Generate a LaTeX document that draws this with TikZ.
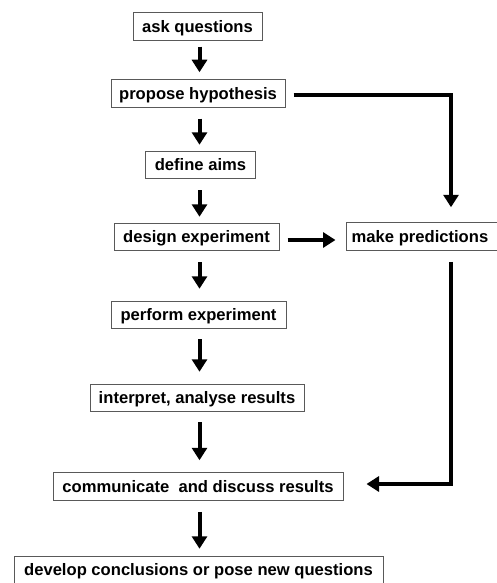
\documentclass[tikz,border=0pt]{standalone}
\usepackage{fontspec}
\setmainfont{Liberation Sans}
\usetikzlibrary{arrows.meta}
\begin{document}
\begin{tikzpicture}[x=1pt,y=-1pt,
  box/.style={draw=black!65, line width=1pt, minimum height=27.5pt, inner sep=0pt, font=\bfseries\fontsize{16.6}{18}\selectfont, anchor=center, text height=13.5pt, text depth=2pt},
  arr/.style={line width=4pt, -{Triangle[width=15pt,length=12.5pt]}}]
\useasboundingbox (0,0) rectangle (497,583);
\clip (0,0) rectangle (497,583);
\node[box, minimum width=129pt] (ask) at (197.5,26.5) {ask questions};
\node[box, minimum width=174pt] (prop) at (198,93.5) {propose hypothesis};
\node[box, minimum width=110pt] (aims) at (200.5,165) {define aims};
\node[box, minimum width=165pt] (design) at (196.5,237) {design experiment};
\node[box, minimum width=154pt] (make) at (423,236.5) {\hspace*{-6pt}make predictions};
\node[box, minimum width=175pt] (perf) at (198.5,315) {perform experiment};
\node[box, minimum width=214pt] (interp) at (197,398) {interpret, analyse results};
\node[box, minimum width=290pt] (comm) at (198,486.5) {communicate\ \ and discuss results};
\node[box, minimum width=369pt] (dev) at (198.5,570) {develop conclusions or pose new questions};
\coordinate (axis) at (199.5,0);
\coordinate (rx) at (451,0);
\draw[arr, shorten <=6pt, shorten >=7pt] (ask.south -| axis) -- (prop.north -| axis);
\draw[arr, shorten <=11pt, shorten >=6pt] (prop.south -| axis) -- (aims.north -| axis);
\draw[arr, shorten <=11pt, shorten >=6pt] (aims.south -| axis) -- (design.north -| axis);
\draw[arr, shorten <=11pt, shorten >=12pt] (design.south -| axis) -- (perf.north -| axis);
\draw[arr, shorten <=10pt, shorten >=12pt] (perf.south -| axis) -- (interp.north -| axis);
\draw[arr, shorten <=10pt, shorten >=12pt] (interp.south -| axis) -- (comm.north -| axis);
\draw[arr, shorten <=11pt, shorten >=7pt] (comm.south -| axis) -- (dev.north -| axis);
\draw[arr, line width=3.5pt, shorten <=8pt, shorten >=15pt] ([yshift=-1.5pt]prop.east) -| (make.north -| rx);
\draw[arr, shorten <=8pt, shorten >=10pt] ([yshift=-3pt]design.east) -- ([yshift=-3pt]design.east -| make.west);
\draw[arr, shorten <=11pt, shorten >=23pt] (make.south -| rx) |- ([yshift=2.5pt]comm.east);
\end{tikzpicture}
\end{document}
